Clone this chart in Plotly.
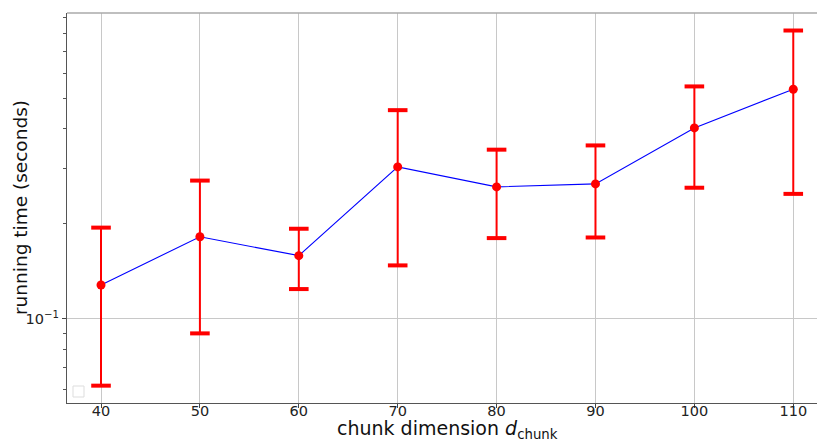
import plotly.graph_objects as go

chunk_dims = [40, 50, 60, 70, 80, 90, 100, 110]
mean_time = [0.128, 0.182, 0.1586, 0.3027, 0.2617, 0.2675, 0.4021, 0.5332]
err_time = [0.0665, 0.092, 0.0343, 0.155, 0.0815, 0.0865, 0.142, 0.2845]
x_ticks = [40, 50, 60, 70, 80, 90, 100, 110]
y_major = [0.1]
y_major_text = ["10<sup>\u22121</sup>"]
y_minor = [0.06, 0.07, 0.08, 0.09, 0.2, 0.3, 0.4, 0.5, 0.6, 0.7, 0.8, 0.9]

upper = [m + e for m, e in zip(mean_time, err_time)]
lower = [m - e for m, e in zip(mean_time, err_time)]

W, H = 817, 442
L, R, T, B = 67, 0, 13, 39

fig = go.Figure()
fig.add_trace(go.Scatter(
    x=chunk_dims, y=mean_time, mode="lines+markers",
    line=dict(color="blue", width=1.1),
    marker=dict(color="red", size=9),
    error_y=dict(type="data", array=err_time, visible=True,
                 color="red", thickness=2, width=0),
    showlegend=False,
))
fig.add_trace(go.Scatter(
    x=chunk_dims + chunk_dims, y=upper + lower, mode="markers",
    marker=dict(symbol="line-ew", size=14, color="red",
                line=dict(color="red", width=4)),
    showlegend=False, hoverinfo="skip",
))

font = "DejaVu Sans"
fig.update_layout(
    width=W, height=H,
    margin=dict(l=L, r=R, t=T, b=B, pad=0),
    plot_bgcolor="white", paper_bgcolor="white",
    font=dict(family=font, color="#222"),
    xaxis=dict(
        range=[36.56, 112.4], tickvals=x_ticks, automargin=False,
        ticks="outside", ticklen=4, tickcolor="#444",
        ticklabelstandoff=-10,
        tickfont=dict(size=14.5, family=font, color="#222"),
        showgrid=True, gridcolor="#c8c8c8", gridwidth=0.8,
        showline=True, linecolor="#555", linewidth=1.2,
        zeroline=False,
    ),
    yaxis=dict(
        type="log", range=[-1.266, -0.032], automargin=False,
        tickvals=y_major, ticktext=y_major_text,
        ticks="outside", ticklen=4, tickcolor="#444",
        tickfont=dict(size=14.5, family=font, color="#222"),
        showgrid=True, gridcolor="#c8c8c8", gridwidth=0.8,
        showline=True, linecolor="#555", linewidth=1.2,
        zeroline=False,
        minor=dict(tickvals=y_minor, ticks="outside", ticklen=2.5,
                   tickcolor="#555", showgrid=False),
    ),
)

pw = W - L - R
ph = H - T - B
def px(xp):
    return (xp - L) / pw
def py(yp):
    return (H - B - yp) / ph

# axis titles
fig.add_annotation(text="chunk dimension <i>d</i><sub>chunk</sub>",
                   xref="paper", yref="paper", x=px(447), y=py(429),
                   xanchor="center", yanchor="middle", showarrow=False,
                   font=dict(size=19, family=font, color="#111"))
fig.add_annotation(text="running time (seconds)", textangle=-90,
                   xref="paper", yref="paper", x=px(20), y=py(208),
                   xanchor="center", yanchor="middle", showarrow=False,
                   font=dict(size=18.5, family=font, color="#111"))

# top spine
fig.add_shape(type="line", xref="paper", yref="paper", x0=0, x1=1, y0=1, y1=1,
              line=dict(color="#aaaaaa", width=1.5))

# empty legend box (bottom-left)
fig.add_shape(type="rect", xref="paper", yref="paper",
              x0=px(73), x1=px(84), y0=py(397), y1=py(386),
              line=dict(color="#dddddd", width=1), fillcolor="rgba(255,255,255,0.8)")

fig.write_html("out.html", config={"displayModeBar": False},
               post_script="document.body.style.margin='0';document.body.style.overflow='hidden';")
